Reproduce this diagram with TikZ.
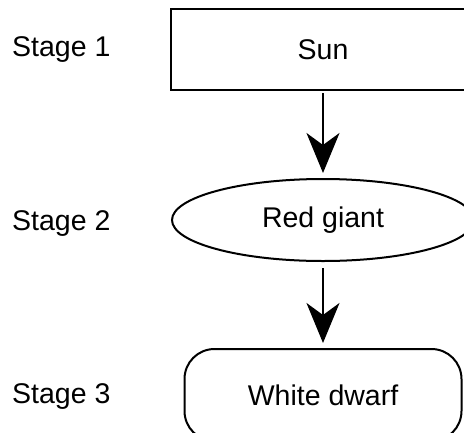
\documentclass[tikz,border=0pt]{standalone}
\usepackage{fontspec}
\setmainfont{Liberation Sans}
\usetikzlibrary{shapes.geometric,arrows.meta}
\begin{document}
\begin{tikzpicture}[x=1pt,y=-1pt,
  box/.style={draw=black,line width=2pt,outer sep=0pt,inner sep=0pt,font=\fontsize{28.5}{34}\selectfont},
  lab/.style={anchor=base west,inner sep=0pt,font=\fontsize{28.5}{34}\selectfont},
  arr/.style={line width=2pt,-{Stealth[length=40pt,width=33pt,inset=12pt]}}]
\useasboundingbox (0,0) rectangle (464,432);
\clip (0,0) rectangle (464,432);
\node[box,rectangle,minimum width=304pt,minimum height=81pt] (sun) at (323,49.5) {Sun};
\node[box,ellipse,minimum width=302pt,minimum height=82pt] (red) at (323,220) {Red giant};
\node[box,rectangle,rounded corners=30pt,minimum width=277pt,minimum height=92pt] (white) at (323,395) {White dwarf};
\node[lab] (s1) at (12,56) {Stage 1};
\node[lab] (s2) at (12,230) {Stage 2};
\node[lab] (s3) at (12,403) {Stage 3};
\draw[arr,shorten <=3pt,shorten >=6pt] (sun.south) -- (red.north);
\draw[arr,shorten <=7pt,shorten >=6pt] (red.south) -- (white.north);
\end{tikzpicture}
\end{document}
